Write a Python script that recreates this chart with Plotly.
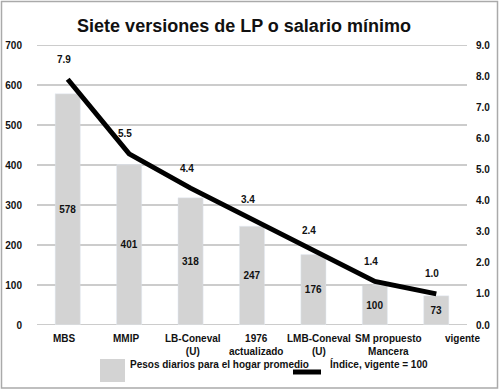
import math
import plotly.graph_objects as go

categories = ["MBS", "MMIP", "LB-Coneval<br>(U)", "1976<br>actualizado",
              "LMB-Coneval<br>(U)", "SM propuesto<br>Mancera", "vigente"]
pesos = [578, 401, 318, 247, 176, 100, 73]
indice = [7.9, 5.5, 4.4, 3.4, 2.4, 1.4, 1.0]
left_ticks = [0, 100, 200, 300, 400, 500, 600, 700]
right_ticks = [0, 1, 2, 3, 4, 5, 6, 7, 8, 9]
label_shift = [-3, -3, 2, 4, 6, 14, 26]

FONT = "Liberation Sans, Arial, sans-serif"
BAR = "#d3d3d3"
GRID = "#cccccc"
TF = dict(family=FONT, size=10, color="#111", weight="bold")
BW = 0.41

fig = go.Figure()
fig.add_trace(go.Bar(x=categories, y=pesos, marker_color=BAR, width=BW,
                     text=[str(v) for v in pesos], textposition="inside",
                     insidetextanchor="middle", textangle=0,
                     textfont=TF, showlegend=False, hoverinfo="skip"))
fig.add_trace(go.Scatter(x=categories, y=indice, yaxis="y2", mode="lines",
                         line=dict(color="black", width=5), showlegend=False))

annotations = []
for c, v in zip(categories, indice):
    annotations.append(dict(x=c, y=v, xref="x", yref="y2", text=f"{v:.1f}",
                            showarrow=False, yshift=20, xshift=-4, font=TF))
for c, s in zip(categories, label_shift):
    annotations.append(dict(x=c, y=0, xref="x", yref="y", text=c, showarrow=False,
                            yanchor="top", yshift=-6, xshift=s, font=TF))

def px2x(px):
    return (px - 37) / 430

def py2y(py):
    return (325 - py) / 280

# legend (manual)
annotations.append(dict(x=px2x(128), y=py2y(372), xref="paper", yref="paper",
                        text="Pesos diarios para el hogar promedio", showarrow=False,
                        xanchor="left", font=TF))
annotations.append(dict(x=px2x(328), y=py2y(372), xref="paper", yref="paper",
                        text="Índice, vigente = 100", showarrow=False,
                        xanchor="left", font=TF))

# gridline segments, left open where bars or the index line pass
n = len(categories)
cat_px = 430 / n
unit_px = 280 / right_ticks[-1]
grid_shapes = []
for t in left_ticks:
    r = t * right_ticks[-1] / left_ticks[-1]
    blocked = [(i - BW / 2, i + BW / 2) for i, v in enumerate(pesos) if v > t]
    for i in range(n - 1):
        a, b = indice[i], indice[i + 1]
        if a != b and min(a, b) <= r <= max(a, b):
            xc = i + (r - a) / (b - a)
            s = abs((b - a) * unit_px / cat_px)
            h = 2.5 * math.sqrt(1 + s * s) + 1.5
            g = h / s / cat_px
            blocked.append((xc - g, xc + g))
    blocked.sort()
    cur = -0.5
    segs = []
    for a0, a1 in blocked:
        if a0 > cur:
            segs.append((cur, a0))
        cur = max(cur, a1)
    if cur < n - 0.5:
        segs.append((cur, n - 0.5))
    for x0, x1 in segs:
        grid_shapes.append(dict(type="line", xref="x", yref="y", x0=x0, x1=x1,
                                y0=t, y1=t, layer="above",
                                line=dict(color=GRID, width=2)))

shapes = grid_shapes + [
    dict(type="rect", xref="paper", yref="paper", x0=px2x(100), x1=px2x(125),
         y0=py2y(382), y1=py2y(359), fillcolor=BAR, line=dict(width=0)),
    dict(type="line", xref="paper", yref="paper", x0=px2x(293), x1=px2x(321),
         y0=py2y(372), y1=py2y(372), line=dict(color="black", width=5)),
    dict(type="rect", xref="paper", yref="paper", x0=px2x(1.5), x1=px2x(497.5),
         y0=py2y(388), y1=py2y(1.5), line=dict(color="#aaaaaa", width=1.5)),
]

fig.update_layout(
    width=500, height=391,
    margin=dict(l=37, r=33, t=45, b=66, autoexpand=False),
    paper_bgcolor="white", plot_bgcolor="white",
    title=dict(text="<b>Siete versiones de LP o salario mínimo</b>", x=0.488, xanchor="center",
               y=0.935, yanchor="middle", font=dict(family=FONT, size=18, color="#111")),
    font=dict(family=FONT, size=10, color="#111"),
    xaxis=dict(showgrid=False, zeroline=False, showline=False, ticks="",
               showticklabels=False, automargin=False, range=[-0.5, n - 0.5]),
    yaxis=dict(range=[0, 700], tickvals=left_ticks, showgrid=True, gridcolor=GRID,
               gridwidth=2, zeroline=False, showline=False, ticks="", automargin=False,
               tickfont=TF, ticklabelstandoff=14),
    yaxis2=dict(range=[0, 9], tickvals=right_ticks, tickformat=".1f", overlaying="y",
                side="right", showgrid=False, zeroline=False, showline=False, ticks="",
                automargin=False, tickfont=TF, ticklabelstandoff=8),
    annotations=annotations, shapes=shapes, bargap=0.59,
    uniformtext=dict(minsize=10, mode="show"),
)

fig.write_html("out.html", config={"displayModeBar": False},
               post_script="document.body.style.margin='0';")
